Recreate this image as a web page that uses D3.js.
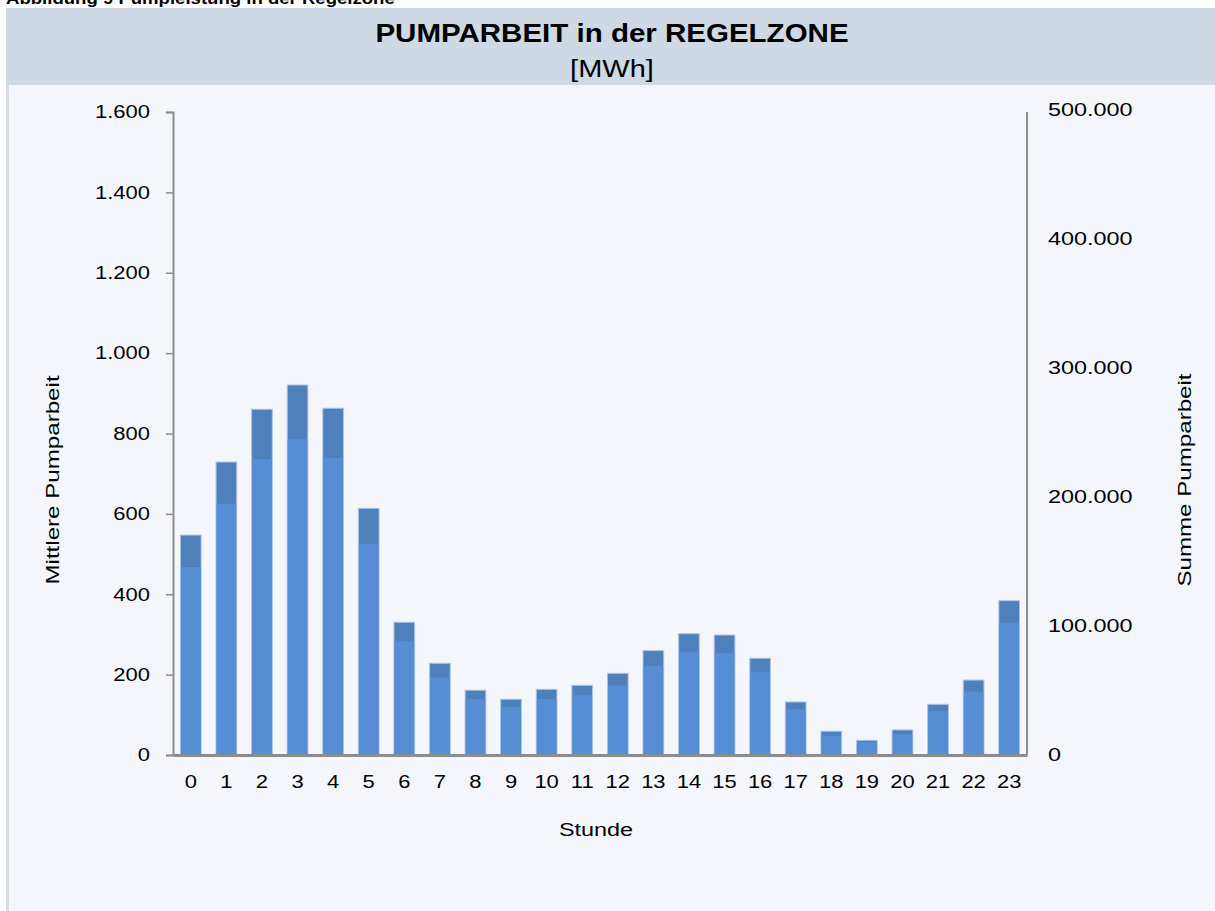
<!DOCTYPE html>
<html lang="de">
<head>
    <meta charset="UTF-8">
    <title>Pumparbeit in der Regelzone</title>
    <style>
        body {
            margin: 0;
            padding: 0;
            background: #ffffff;
            font-family: "Liberation Sans", Arial, sans-serif;
        }
        svg text {
            font-family: "Liberation Sans", Arial, sans-serif;
            fill: #000;
        }
    </style>
</head>
<body>
    <svg id="chart"></svg>

    <script src="https://cdnjs.cloudflare.com/ajax/libs/d3/7.9.0/d3.min.js"></script>
    <script>
        // Stunden 0..23
        const hours = d3.range(0, 24).map(String);

        // Mittlere Pumparbeit (linke Achse)
        const meanValues = [468, 625, 736, 786, 739, 525, 283, 193, 139, 120, 139, 149,
            173, 222, 257, 254, 206, 114, 48, 32, 52, 110, 158, 329];

        // Summe Pumparbeit (rechte Achse)
        const sumValues = [170500, 227100, 268000, 286800, 268800, 191200, 102900, 71100,
            50200, 43200, 50900, 54000, 63300, 80900, 94000, 93000, 75000, 41100,
            18400, 11400, 19400, 39300, 58100, 119600];

        const leftTicks = [0, 200, 400, 600, 800, 1000, 1200, 1400, 1600];
        const rightTicks = [0, 100000, 200000, 300000, 400000, 500000];

        const width = 1215;
        const height = 911;
        const margin = { top: 112, right: 188, bottom: 156, left: 173 };

        const fmt = d3.formatLocale({ decimal: ',', thousands: '.', grouping: [3], currency: ['', '€'] }).format(',.0f');

        // Text in der Vorlage ist etwas breit gezogen
        function stretch(sel, factor) {
            sel.each(function () {
                const len = this.getComputedTextLength();
                d3.select(this)
                    .attr('textLength', len * factor)
                    .attr('lengthAdjust', 'spacingAndGlyphs');
            });
        }

        const svg = d3.select('#chart')
            .attr('width', width)
            .attr('height', height);

        // Hintergrund
        svg.append('rect')
            .attr('x', 6).attr('y', 8)
            .attr('width', width - 6).attr('height', height - 8)
            .attr('fill', '#f4f6fb');
        svg.append('rect')
            .attr('x', 6).attr('y', 8)
            .attr('width', 3).attr('height', height - 8)
            .attr('fill', '#d3dce7');
        svg.append('rect')
            .attr('x', 6).attr('y', 8)
            .attr('width', width - 6).attr('height', 77)
            .attr('fill', '#cfd9e5');

        // abgeschnittene Bildunterschrift oben
        svg.append('text')
            .attr('x', 6).attr('y', 4)
            .attr('font-size', 16)
            .attr('font-weight', 'bold')
            .text('Abbildung 9 Pumpleistung in der Regelzone')
            .call(stretch, 1.16);

        svg.append('text')
            .attr('x', 612).attr('y', 42)
            .attr('text-anchor', 'middle')
            .attr('font-size', 25)
            .attr('font-weight', 'bold')
            .text('PUMPARBEIT in der REGELZONE')
            .call(stretch, 1.18);
        svg.append('text')
            .attr('x', 612).attr('y', 77)
            .attr('text-anchor', 'middle')
            .attr('font-size', 23)
            .text('[MWh]')
            .call(stretch, 1.26);

        const x = d3.scaleBand()
            .domain(hours)
            .range([margin.left, width - margin.right])
            .paddingInner(0.42)
            .paddingOuter(0.21);

        const yLeft = d3.scaleLinear()
            .domain([0, 1600])
            .range([height - margin.bottom, margin.top]);

        const yRight = d3.scaleLinear()
            .domain([0, 500000])
            .range([height - margin.bottom, margin.top - 2]);

        // Summe (dunkel, hinten)
        svg.append('g')
            .selectAll('rect')
            .data(sumValues)
            .enter().append('rect')
            .attr('x', (d, i) => x(hours[i]))
            .attr('y', d => yRight(d))
            .attr('width', x.bandwidth())
            .attr('height', d => yRight(0) - yRight(d))
            .attr('fill', '#4e80bc')
            .attr('stroke', '#a9c3e6')
            .attr('stroke-width', 1);

        // Mittelwert (hell, vorne)
        svg.append('g')
            .selectAll('rect')
            .data(meanValues)
            .enter().append('rect')
            .attr('x', (d, i) => x(hours[i]) + 0.5)
            .attr('y', d => yLeft(d))
            .attr('width', x.bandwidth() - 1)
            .attr('height', d => yLeft(0) - yLeft(d))
            .attr('fill', '#558ed5');

        // linke Achse
        const leftAxis = svg.append('g')
            .attr('transform', `translate(${margin.left},0)`)
            .call(d3.axisLeft(yLeft).tickValues(leftTicks).tickFormat(fmt).tickSize(7).tickPadding(16));
        leftAxis.select('.domain').attr('stroke', '#8c8c8c').attr('stroke-width', 2);
        leftAxis.selectAll('.tick line').attr('stroke', '#8c8c8c').attr('stroke-width', 1.5);
        leftAxis.selectAll('.tick text').attr('font-size', 18).attr('fill', '#000').call(stretch, 1.22);

        // rechte Achse
        const rightAxis = svg.append('g')
            .attr('transform', `translate(${width - margin.right},0)`)
            .call(d3.axisRight(yRight).tickValues(rightTicks).tickFormat(fmt).tickSize(0).tickPadding(21).tickSizeOuter(0));
        rightAxis.select('.domain').attr('stroke', '#8c8c8c').attr('stroke-width', 2)
            .attr('d', `M0,${yLeft(1600)}V${yLeft(0)}`);
        rightAxis.selectAll('.tick text').attr('font-size', 18).attr('fill', '#000').call(stretch, 1.3);

        // x-Achse
        const bottomAxis = svg.append('g')
            .attr('transform', `translate(0,${height - margin.bottom})`)
            .call(d3.axisBottom(x).tickSize(0).tickPadding(20).tickSizeOuter(0));
        bottomAxis.select('.domain').attr('stroke', '#8c8c8c').attr('stroke-width', 3);
        bottomAxis.selectAll('.tick text').attr('font-size', 18).attr('fill', '#000').call(stretch, 1.22);

        // Achsentitel
        svg.append('text')
            .attr('transform', 'translate(59,480) rotate(-90)')
            .attr('text-anchor', 'middle')
            .attr('font-size', 18)
            .text('Mittlere Pumparbeit')
            .call(stretch, 1.34);
        svg.append('text')
            .attr('transform', 'translate(1191,480) rotate(-90)')
            .attr('text-anchor', 'middle')
            .attr('font-size', 18)
            .text('Summe Pumparbeit')
            .call(stretch, 1.34);
        svg.append('text')
            .attr('x', 596).attr('y', 836)
            .attr('text-anchor', 'middle')
            .attr('font-size', 18)
            .text('Stunde')
            .call(stretch, 1.3);
    </script>
</body>
</html>
